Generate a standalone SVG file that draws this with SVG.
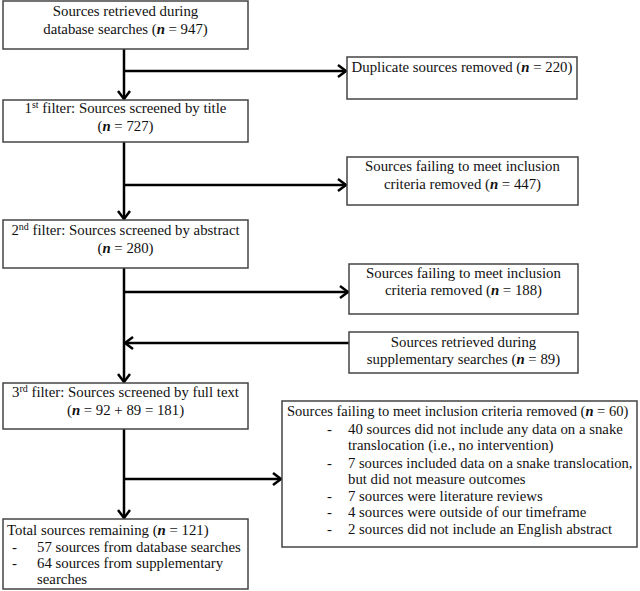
<svg xmlns="http://www.w3.org/2000/svg" width="640" height="591" viewBox="0 0 640 591">
<style>
  .box { fill: #fff; stroke: #444; stroke-width: 1.5; }
  .t { font-family: "Liberation Serif", "Times New Roman", serif; font-size: 14.8px; fill: #111; }
  .c { text-anchor: middle; }
  .n { font-style: italic; font-weight: bold; }
  .sup { font-size: 10px; }
  .conn { stroke: #000; stroke-width: 2.5; fill: none; }
</style>
<defs>
  <marker id="arr" markerUnits="userSpaceOnUse" markerWidth="14" markerHeight="16" refX="9" refY="7" orient="auto" overflow="visible">
    <path d="M1,1 L9,7 L1,13" fill="none" stroke="#000" stroke-width="2.5"/>
  </marker>
</defs>
<rect width="640" height="591" fill="#fff"/>

<g id="connectors">
  <line class="conn" x1="124" y1="49" x2="124" y2="99" marker-end="url(#arr)"/>
  <line class="conn" x1="124" y1="71" x2="346" y2="71" marker-end="url(#arr)"/>
  <line class="conn" x1="124" y1="142" x2="124" y2="219" marker-end="url(#arr)"/>
  <line class="conn" x1="124" y1="185" x2="346" y2="185" marker-end="url(#arr)"/>
  <line class="conn" x1="124" y1="268" x2="124" y2="382" marker-end="url(#arr)"/>
  <line class="conn" x1="124" y1="292" x2="348" y2="292" marker-end="url(#arr)"/>
  <line class="conn" x1="349" y1="343" x2="125" y2="343" marker-end="url(#arr)"/>
  <line class="conn" x1="124" y1="429" x2="124" y2="518" marker-end="url(#arr)"/>
  <line class="conn" x1="124" y1="479" x2="281" y2="479" marker-end="url(#arr)"/>
</g>

<g id="node-db">
  <rect class="box" x="3" y="1" width="245" height="48"/>
  <text class="t c" x="125.5" y="16">Sources retrieved during</text>
  <text class="t c" x="125.5" y="34">database searches (<tspan class="n">n</tspan> = 947)</text>
</g>

<g id="node-dup">
  <rect class="box" x="347" y="57" width="230" height="42"/>
  <text class="t c" x="462" y="72">Duplicate sources removed (<tspan class="n">n</tspan> = 220)</text>
</g>

<g id="node-f1">
  <rect class="box" x="3" y="100" width="245" height="42"/>
  <text class="t c" x="125.5" y="113">1<tspan class="sup" dy="-5">st</tspan><tspan dy="5"> filter: Sources screened by title</tspan></text>
  <text class="t c" x="125.5" y="131">(<tspan class="n">n</tspan> = 727)</text>
</g>

<g id="node-ex1">
  <rect class="box" x="347" y="157" width="231" height="48"/>
  <text class="t c" x="462.5" y="171">Sources failing to meet inclusion</text>
  <text class="t c" x="462.5" y="189">criteria removed (<tspan class="n">n</tspan> = 447)</text>
</g>

<g id="node-f2">
  <rect class="box" x="3" y="220" width="245" height="48"/>
  <text class="t c" x="125.5" y="235">2<tspan class="sup" dy="-5">nd</tspan><tspan dy="5"> filter: Sources screened by abstract</tspan></text>
  <text class="t c" x="125.5" y="253">(<tspan class="n">n</tspan> = 280)</text>
</g>

<g id="node-ex2">
  <rect class="box" x="349" y="264" width="229" height="50"/>
  <text class="t c" x="463.5" y="278">Sources failing to meet inclusion</text>
  <text class="t c" x="463.5" y="295">criteria removed (<tspan class="n">n</tspan> = 188)</text>
</g>

<g id="node-supp">
  <rect class="box" x="349" y="332" width="229" height="41"/>
  <text class="t c" x="463.5" y="347">Sources retrieved during</text>
  <text class="t c" x="463.5" y="364">supplementary searches (<tspan class="n">n</tspan> = 89)</text>
</g>

<g id="node-f3">
  <rect class="box" x="3" y="383" width="245" height="46"/>
  <text class="t c" x="125.5" y="397">3<tspan class="sup" dy="-5">rd</tspan><tspan dy="5"> filter: Sources screened by full text</tspan></text>
  <text class="t c" x="125.5" y="415">(<tspan class="n">n</tspan> = 92 + 89 = 181)</text>
</g>

<g id="node-ex3">
  <rect class="box" x="282" y="401" width="355" height="146"/>
  <text class="t" x="287" y="416" style="font-size:14.5px">Sources failing to meet inclusion criteria removed (<tspan class="n">n</tspan> = 60)</text>
  <text class="t" x="327" y="434">-</text>
  <text class="t" x="348" y="434">40 sources did not include any data on a snake</text>
  <text class="t" x="348" y="450">translocation (i.e., no intervention)</text>
  <text class="t" x="327" y="468">-</text>
  <text class="t" x="348" y="468" style="font-size:14.6px">7 sources included data on a snake translocation,</text>
  <text class="t" x="348" y="484">but did not measure outcomes</text>
  <text class="t" x="327" y="501">-</text>
  <text class="t" x="348" y="501">7 sources were literature reviews</text>
  <text class="t" x="327" y="517">-</text>
  <text class="t" x="348" y="517">4 sources were outside of our timeframe</text>
  <text class="t" x="327" y="534">-</text>
  <text class="t" x="348" y="534">2 sources did not include an English abstract</text>
</g>

<g id="node-total">
  <rect class="box" x="3" y="519" width="245" height="70"/>
  <text class="t" x="7" y="535">Total sources remaining (<tspan class="n">n</tspan> = 121)</text>
  <text class="t" x="12" y="552">-</text>
  <text class="t" x="37" y="552">57 sources from database searches</text>
  <text class="t" x="12" y="568">-</text>
  <text class="t" x="37" y="568">64 sources from supplementary</text>
  <text class="t" x="37" y="584">searches</text>
</g>
</svg>
